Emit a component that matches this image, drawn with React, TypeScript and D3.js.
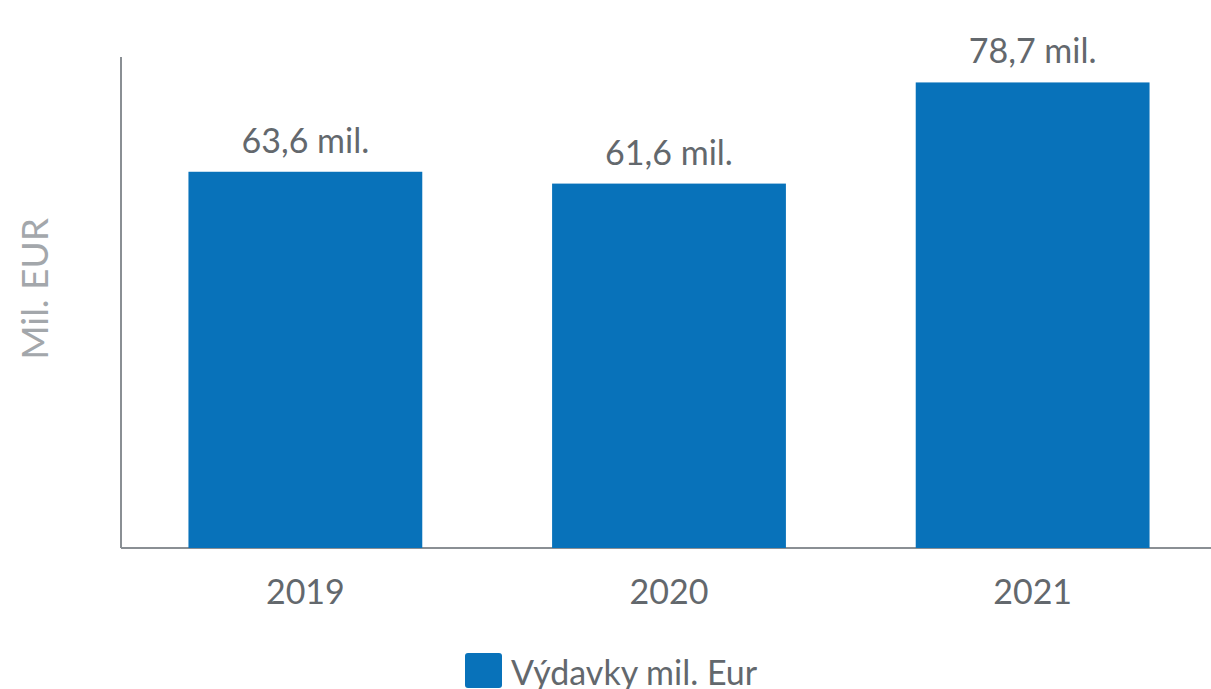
import React from "react";
import * as d3 from "d3";

const years = ["2019", "2020", "2021"];
const spending = [63.6, 61.6, 78.7];
const valueLabels = ["63,6 mil.", "61,6 mil.", "78,7 mil."];
const legendLabel = "Výdavky mil. Eur";
const yTitle = "Mil. EUR";

const W = 1211;
const H = 689;
const FONT = "Lato, 'Open Sans', sans-serif";
const BAR = "#0872ba";
const TXT = "#63686d";

export default function App() {
  // plot area
  const x0 = 121;
  const yBase = 548;
  const yTop = 57;

  const x = d3.scaleBand<string>().domain(years).range([123, 1215]).paddingInner(0.357).paddingOuter(0.18);
  const y = d3.scaleLinear().domain([0, 83]).range([yBase, yTop]);

  return (
    <svg
      width={W}
      height={H}
      style={{ position: "absolute", left: 0, top: 0, background: "#fff" }}
      fontFamily={FONT}
    >
      {/* axes */}
      <line x1={x0} x2={x0} y1={yTop} y2={yBase} stroke="#8a8f94" strokeWidth={2} />
      <line x1={x0} x2={W} y1={yBase} y2={yBase} stroke="#8a8f94" strokeWidth={2} />

      {/* y title */}
      <text
        transform={`translate(48,289) rotate(-90)`}
        textAnchor="middle"
        fontSize={37}
        fill="#a3a7ab"
      >
        {yTitle}
      </text>

      {years.map((yr, i) => {
        const bx = x(yr)!;
        const bw = x.bandwidth();
        const v = spending[i];
        return (
          <g key={yr}>
            <rect x={bx} y={y(v)} width={bw} height={yBase - y(v)} fill={BAR} />
            <text x={bx + bw / 2} y={y(v) - 19} textAnchor="middle" fontSize={34} fill={TXT}>
              {valueLabels[i]}
            </text>
            <text x={bx + bw / 2} y={604} textAnchor="middle" fontSize={34} fill={TXT}>
              {yr}
            </text>
          </g>
        );
      })}

      {/* legend */}
      <rect x={465} y={653} width={37} height={35} rx={3} fill={BAR} />
      <text x={511} y={685} fontSize={34} fill={TXT}>
        {legendLabel}
      </text>
    </svg>
  );
}
